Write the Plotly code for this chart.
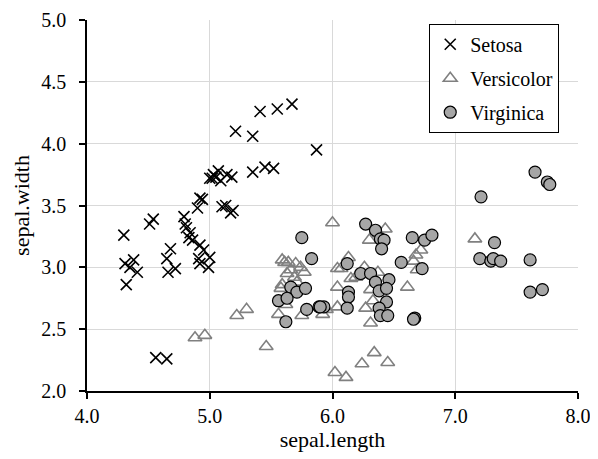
import plotly.graph_objects as go

# ---- data ----
setosa_x = [4.30, 4.54, 4.51, 4.92, 4.90, 5.10, 5.17, 4.79, 4.81, 4.84,
            4.83, 4.68, 4.65, 4.72, 4.66, 4.92, 4.95, 4.91, 5.00, 4.99,
            4.92, 4.31, 4.38, 4.41, 4.35, 4.32, 5.41, 5.55, 5.21, 5.35,
            5.03, 5.02, 5.07, 5.09, 5.14, 5.18, 5.35, 5.45, 5.52, 5.67,
            5.87, 4.56, 4.65, 5.13, 4.94, 5.00, 5.05, 4.80, 4.86, 5.19]
setosa_y = [3.26, 3.39, 3.35, 3.56, 3.48, 3.49, 3.44, 3.41, 3.32, 3.28,
            3.24, 3.15, 3.07, 2.99, 2.96, 3.18, 3.14, 3.07, 3.08, 3.00,
            3.03, 3.03, 3.06, 2.96, 3.00, 2.86, 4.26, 4.28, 4.10, 4.06,
            3.75, 3.72, 3.78, 3.70, 3.75, 3.73, 3.77, 3.81, 3.80, 4.32,
            3.95, 2.27, 2.26, 3.50, 3.55, 3.72, 3.73, 3.35, 3.22, 3.46]

versicolor_x = [4.88, 4.96, 5.22, 5.30, 5.46, 5.59, 5.64, 5.70, 5.74, 5.77,
                5.63, 5.69, 5.59, 5.56, 5.62, 5.75, 5.92, 6.00, 6.04, 6.04,
                6.04, 6.13, 6.15, 6.26, 6.27, 6.31, 6.02, 6.11, 6.24, 6.34,
                6.45, 6.43, 6.30, 6.68, 6.72, 6.69, 6.61, 6.37, 6.31, 7.16,
                5.58, 5.66, 5.61, 6.19, 6.07, 5.71, 6.38, 5.95, 6.33, 6.66]
versicolor_y = [2.43, 2.45, 2.61, 2.66, 2.36, 3.06, 3.04, 3.03, 3.00, 2.96,
                2.95, 2.92, 2.86, 2.62, 2.70, 2.61, 2.62, 3.36, 2.99, 2.84,
                2.68, 3.08, 2.91, 3.00, 2.67, 2.55, 2.15, 2.11, 2.22, 2.31,
                2.23, 3.31, 3.22, 3.10, 3.14, 2.98, 2.84, 2.96, 2.82, 3.23,
                2.83, 2.98, 3.04, 2.92, 2.99, 2.88, 3.27, 2.66, 2.73, 3.05]

virginica_x = [5.75, 5.83, 5.66, 5.71, 5.78, 5.56, 5.63, 5.62, 5.79, 5.89,
               5.93, 6.12, 6.13, 6.13, 6.12, 6.23, 6.27, 6.35, 6.39, 6.42,
               6.40, 6.31, 6.35, 6.46, 6.38, 6.44, 6.44, 6.38, 6.39, 6.45,
               6.67, 6.56, 6.73, 6.65, 6.75, 6.81, 7.21, 7.65, 7.75, 7.77,
               7.32, 7.20, 7.29, 7.31, 7.37, 7.61, 7.61, 7.71, 6.66, 5.90]
virginica_y = [3.24, 3.07, 2.84, 2.80, 2.83, 2.73, 2.75, 2.56, 2.66, 2.68,
               2.68, 3.03, 2.80, 2.76, 2.67, 2.95, 3.35, 3.30, 3.23, 3.22,
               3.15, 2.95, 2.88, 2.90, 2.81, 2.83, 2.72, 2.67, 2.61, 2.61,
               2.59, 3.04, 2.99, 3.24, 3.22, 3.26, 3.57, 3.77, 3.69, 3.67,
               3.20, 3.07, 3.05, 3.07, 3.05, 3.06, 2.80, 2.82, 2.58, 2.68]

x_ticks = [4.0, 5.0, 6.0, 7.0, 8.0]
y_ticks = [2.0, 2.5, 3.0, 3.5, 4.0, 4.5, 5.0]

FONT = "Liberation Serif, Times New Roman, serif"

fig = go.Figure()
fig.add_trace(go.Scatter(
    x=setosa_x, y=setosa_y, mode="markers", name="Setosa", legendgroup="a",
    marker=dict(symbol="x-thin-open", size=11, color="black",
                line=dict(color="black", width=1.6))))
fig.add_trace(go.Scatter(
    x=versicolor_x, y=versicolor_y, mode="markers", name="Versicolor", legendgroup="b",
    marker=dict(symbol="triangle-up-open", size=12, color="#808080",
                line=dict(color="#808080", width=1.6))))
fig.add_trace(go.Scatter(
    x=virginica_x, y=virginica_y, mode="markers", name="Virginica", legendgroup="c",
    marker=dict(symbol="circle", size=12, color="#A6A6A6",
                line=dict(color="black", width=1.2))))

# the page body adds an 8 px offset, so the figure is sized to fit the window
fig.update_layout(
    width=590, height=451,
    margin=dict(l=79, r=20, t=12, b=68, autoexpand=False),
    paper_bgcolor="white", plot_bgcolor="white",
    font=dict(family=FONT, size=20, color="black"),
    legend=dict(x=0.697, y=0.99, xanchor="left", yanchor="top",
                bordercolor="black", borderwidth=1, bgcolor="white",
                font=dict(family=FONT, size=20, color="black"),
                traceorder="grouped", tracegroupgap=5),
    xaxis=dict(range=[4.0, 8.0], tickvals=x_ticks,
               ticktext=[f"{v:.1f}" for v in x_ticks],
               showgrid=True, gridcolor="#D9D9D9", gridwidth=1,
               showline=True, linecolor="black", linewidth=1.5,
               ticks="outside", ticklen=6, tickcolor="black", tickwidth=1.5,
               zeroline=False, automargin=False, ticklabeloverflow="allow",
               title=dict(text="sepal.length", font=dict(family=FONT, size=22), standoff=1)),
    yaxis=dict(range=[2.0, 5.0], tickvals=y_ticks,
               ticktext=[f"{v:.1f}" for v in y_ticks],
               showgrid=True, gridcolor="#D9D9D9", gridwidth=1,
               showline=True, linecolor="black", linewidth=1.5,
               ticks="outside", ticklen=6, tickcolor="black", tickwidth=1.5,
               ticklabelstandoff=9,
               zeroline=False, automargin=False, ticklabeloverflow="allow",
               title=dict(text="sepal.width", font=dict(family=FONT, size=22), standoff=6)),
)

fig.write_html("out.html")
